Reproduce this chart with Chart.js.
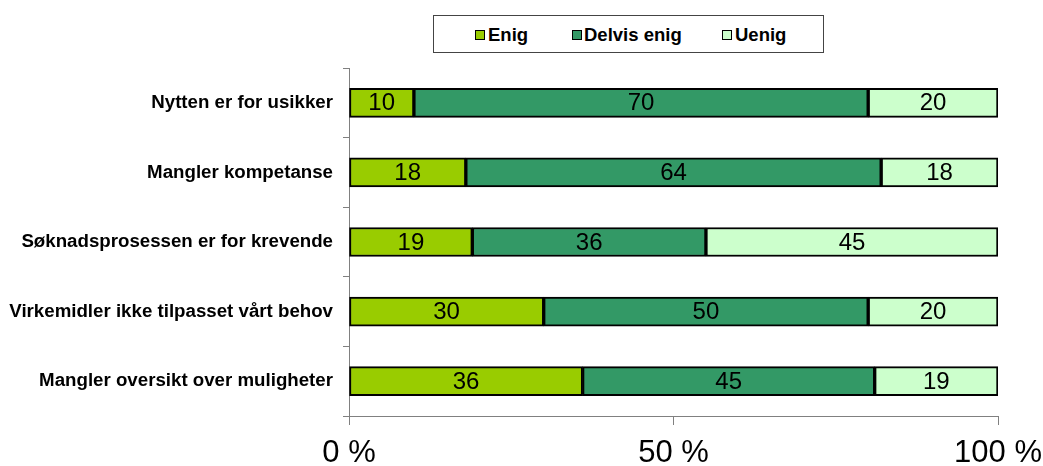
<!DOCTYPE html>
<html>
<head>
<meta charset="utf-8">
<script src="https://cdn.jsdelivr.net/npm/chart.js@4.4.0/dist/chart.umd.min.js"></script>
<style>
  html, body { margin: 0; padding: 0; background: #fff; }
  #wrap { position: relative; width: 1043px; height: 466px; }
  #c { position: absolute; left: 0; top: 0; }
  #legend { position: absolute; left: 433px; top: 15px; width: 391px; height: 38px; box-sizing: border-box;
            border: 1px solid #444; background: #fff; font-family: Arial, "Liberation Sans", sans-serif;
            font-weight: bold; font-size: 18.5px; color: #000; }
  .sq { position: absolute; top: 14px; width: 10px; height: 10px; box-sizing: border-box; border: 1.5px solid #000; }
  .lt { position: absolute; top: 10px; height: 18px; line-height: 18px; white-space: nowrap; }
</style>
</head>
<body>
<div id="wrap">
  <canvas id="c" width="1043" height="466"></canvas>
  <div id="legend"></div>
</div>
<script>
const categories = [
  "Nytten er for usikker",
  "Mangler kompetanse",
  "Søknadsprosessen er for krevende",
  "Virkemidler ikke tilpasset vårt behov",
  "Mangler oversikt over muligheter"
];
const seriesNames = ["Enig", "Delvis enig", "Uenig"];
const enig = [10, 18, 19, 30, 36];
const delvisEnig = [70, 64, 36, 50, 45];
const uenig = [20, 18, 45, 20, 19];
const xTicks = [0, 50, 100];

const colors = ["#99CC00", "#339966", "#CCFFCC"];
const seriesData = [enig, delvisEnig, uenig];

// HTML legend
const legendPos = [{sq: 41, tx: 54}, {sq: 138, tx: 150}, {sq: 288, tx: 301}];
const lg = document.getElementById('legend');
seriesNames.forEach((n, i) => {
  const s = document.createElement('span');
  s.className = 'sq'; s.style.left = legendPos[i].sq + 'px'; s.style.background = colors[i];
  const t = document.createElement('span');
  t.className = 'lt'; t.style.left = legendPos[i].tx + 'px'; t.textContent = n;
  lg.appendChild(s); lg.appendChild(t);
});

const FONT = 'Arial, "Liberation Sans", sans-serif';

const valueLabels = {
  id: 'valueLabels',
  afterDatasetsDraw(chart) {
    const ctx = chart.ctx;
    ctx.save();
    ctx.font = '24px ' + FONT;
    ctx.fillStyle = '#000';
    ctx.textAlign = 'center';
    ctx.textBaseline = 'middle';
    chart.data.datasets.forEach((ds, di) => {
      const meta = chart.getDatasetMeta(di);
      meta.data.forEach((el, i) => {
        const x = (el.x + el.base) / 2;
        ctx.fillText(String(ds.data[i]), x, el.y + 1);
      });
    });
    ctx.restore();
  }
};

new Chart(document.getElementById('c'), {
  type: 'bar',
  data: {
    labels: categories,
    datasets: seriesNames.map((n, i) => ({
      label: n,
      data: seriesData[i],
      backgroundColor: colors[i],
      borderColor: '#000',
      borderWidth: 2,
      borderSkipped: false,
      barThickness: 29
    }))
  },
  options: {
    indexAxis: 'y',
    responsive: false,
    animation: false,
    layout: { padding: { top: 68, right: 45, left: 0, bottom: 0 } },
    plugins: { legend: { display: false }, tooltip: { enabled: false } },
    scales: {
      x: {
        stacked: true,
        min: 0, max: 100,
        afterBuildTicks(scale) { scale.ticks = xTicks.map(v => ({ value: v })); },
        afterFit(scale) { scale.height = 50; scale.paddingLeft = 0; scale.paddingRight = 0; },
        grid: { drawOnChartArea: false, drawTicks: true, tickLength: 9, color: '#808080', lineWidth: 1 },
        border: { display: true, color: '#808080', width: 1 },
        ticks: {
          padding: 9.5,
          color: '#000',
          font: { family: FONT, size: 31 },
          maxRotation: 0,
          callback: v => v + ' %'
        }
      },
      y: {
        stacked: true,
        afterFit(scale) { scale.width = 349; },
        grid: { offset: true, drawOnChartArea: false, drawTicks: true, tickLength: 6, color: '#808080', lineWidth: 1 },
        border: { display: true, color: '#808080', width: 1 },
        ticks: {
          padding: 10,
          color: '#000',
          font: { family: FONT, size: 18.7, weight: 'bold' }
        }
      }
    }
  },
  plugins: [valueLabels]
});
</script>
</body>
</html>
